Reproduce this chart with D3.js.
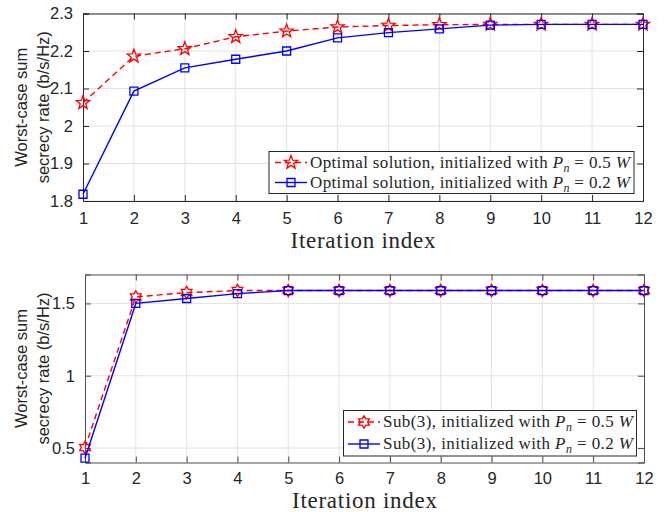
<!DOCTYPE html>
<html>
<head>
<meta charset="utf-8">
<script src="https://cdnjs.cloudflare.com/ajax/libs/d3/7.8.5/d3.min.js"></script>
<style>
  body { margin: 0; background: #fff; }
  svg { display: block; }
</style>
</head>
<body>
<script>
// data
var iterations = [1, 2, 3, 4, 5, 6, 7, 8, 9, 10, 11, 12];

// top panel: optimal solution
var optimal05 = [2.062, 2.186, 2.206, 2.238, 2.253, 2.264, 2.268, 2.270, 2.271, 2.271, 2.271, 2.271];
var optimal02 = [1.818, 2.093, 2.155, 2.178, 2.200, 2.235, 2.249, 2.259, 2.269, 2.271, 2.271, 2.271];

// bottom panel: Sub(3)
var sub05 = [0.503, 1.545, 1.575, 1.589, 1.589, 1.589, 1.589, 1.589, 1.589, 1.589, 1.589, 1.589];
var sub02 = [0.430, 1.500, 1.534, 1.568, 1.589, 1.589, 1.589, 1.589, 1.589, 1.589, 1.589, 1.589];

var topYTicks = [1.8, 1.9, 2.0, 2.1, 2.2, 2.3];
var bottomYTicks = [0.5, 1, 1.5];

var topLegend = ["Optimal solution, initialized with ", "Optimal solution, initialized with "];
var bottomLegend = ["Sub(3), initialized with ", "Sub(3), initialized with "];
var legendPower = ["0.5", "0.2"];

var axisColor = "#262626",
    gridColor = "#e3e3e3",
    sansFont = "'Liberation Sans', Arial, sans-serif",
    serifFont = "'Liberation Serif', 'Times New Roman', serif";

var svg = d3.select("body").append("svg")
    .attr("width", 666)
    .attr("height", 512);

// builds an outline star with n points
function starPath(n, R, r) {
  var pts = [];
  for (var i = 0; i < 2 * n; i++) {
    var a = -Math.PI / 2 + i * Math.PI / n;
    var rad = (i % 2 === 0) ? R : r;
    pts.push([rad * Math.cos(a), rad * Math.sin(a)]);
  }
  return "M" + pts.map(function(p) { return p[0].toFixed(2) + "," + p[1].toFixed(2); }).join("L") + "Z";
}

var pentagram = starPath(5, 7, 2.9);
var hexagram = starPath(6, 6.2, 3.6);
var square = "M-4,-4L4,-4L4,4L-4,4Z";

// draws the power label with P_n and W in italics
function legendText(sel, prefix, power, length) {
  var t = sel.append("text")
      .attr("font-family", serifFont)
      .attr("font-size", "17px")
      .attr("fill", axisColor)
      .attr("dy", "0.32em")
      .attr("textLength", length)
      .attr("lengthAdjust", "spacing");
  t.append("tspan").text(prefix);
  t.append("tspan").attr("font-style", "italic").text("P");
  t.append("tspan").attr("font-style", "italic").attr("font-size", "12px").attr("dy", "4").text("n");
  t.append("tspan").attr("dy", "-4").text(" = " + power + " ");
  t.append("tspan").attr("font-style", "italic").text("W");
  return t;
}

function panel(cfg) {
  var width = cfg.right - cfg.left,
      height = cfg.bottom - cfg.top;

  var g = svg.append("g")
      .attr("transform", "translate(" + cfg.left + "," + cfg.top + ")");

  var x = d3.scaleLinear().domain([1, 12]).range([0, width]);
  var y = d3.scaleLinear().domain(cfg.yDomain).range([height, 0]);

  // grid
  g.append("g").selectAll("line.gx")
      .data(iterations.slice(1, -1))
    .enter().append("line")
      .attr("x1", function(d) { return x(d); })
      .attr("x2", function(d) { return x(d); })
      .attr("y1", 0)
      .attr("y2", height)
      .attr("stroke", gridColor);
  g.append("g").selectAll("line.gy")
      .data(cfg.yTicks)
    .enter().append("line")
      .attr("x1", 0)
      .attr("x2", width)
      .attr("y1", function(d) { return y(d); })
      .attr("y2", function(d) { return y(d); })
      .attr("stroke", gridColor);

  // axes, ticks pointing inwards on all four sides
  var xAxis = g.append("g")
      .attr("transform", "translate(0," + height + ")")
      .call(d3.axisBottom(x).tickValues(iterations).tickFormat(d3.format("d")).tickSize(-6).tickPadding(cfg.xPad));
  var yAxis = g.append("g")
      .call(d3.axisLeft(y).tickValues(cfg.yTicks).tickFormat(cfg.yFormat).tickSize(-6).tickPadding(10));
  var topAxis = g.append("g")
      .call(d3.axisTop(x).tickValues(iterations).tickFormat("").tickSize(-6));
  var rightAxis = g.append("g")
      .attr("transform", "translate(" + width + ",0)")
      .call(d3.axisRight(y).tickValues(cfg.yTicks).tickFormat("").tickSize(-6));

  [xAxis, yAxis, topAxis, rightAxis].forEach(function(a) {
    a.selectAll("path, line").attr("stroke", cfg.boxColor);
    a.selectAll("text")
        .attr("fill", axisColor)
        .style("font-family", sansFont)
        .style("font-size", "16.5px");
  });
  xAxis.selectAll("text").attr("dy", "0.71em");

  // series
  var line = d3.line()
      .x(function(d) { return x(d.x); })
      .y(function(d) { return y(d.y); });

  cfg.series.forEach(function(s) {
    var data = iterations.map(function(it, i) { return { x: it, y: s.values[i] }; });
    g.append("path")
        .datum(data)
        .attr("fill", "none")
        .attr("stroke", s.color)
        .attr("stroke-width", 1.4)
        .attr("stroke-dasharray", s.dash)
        .attr("d", line);
    g.selectAll(null)
        .data(data)
      .enter().append("path")
        .attr("transform", function(d) { return "translate(" + x(d.x) + "," + y(d.y) + ")"; })
        .attr("d", s.marker)
        .attr("fill", "none")
        .attr("stroke", s.color)
        .attr("stroke-width", 1.3);
  });

  // axis labels
  g.append("text")
      .attr("x", width / 2)
      .attr("y", height + cfg.xLabelOffset)
      .attr("text-anchor", "middle")
      .attr("font-family", serifFont)
      .attr("font-size", "23px")
      .attr("fill", axisColor)
      .attr("textLength", 145)
      .attr("lengthAdjust", "spacing")
      .text("Iteration index");

  var yl = g.append("g")
      .attr("transform", "translate(" + (-cfg.left) + "," + (height / 2) + ") rotate(-90)");
  yl.append("text")
      .attr("y", 21.7)
      .attr("dy", "0.35em")
      .attr("text-anchor", "middle")
      .attr("font-family", sansFont)
      .attr("font-size", "16.5px")
      .attr("fill", axisColor)
      .text("Worst-case sum");
  yl.append("text")
      .attr("y", 43)
      .attr("dy", "0.35em")
      .attr("text-anchor", "middle")
      .attr("font-family", sansFont)
      .attr("font-size", "16.5px")
      .attr("fill", axisColor)
      .text("secrecy rate (b/s/Hz)");

  // legend
  var lg = cfg.legend;
  var leg = svg.append("g");
  leg.append("rect")
      .attr("x", lg.x)
      .attr("y", lg.y)
      .attr("width", lg.w)
      .attr("height", lg.h)
      .attr("fill", "#fff")
      .attr("stroke", axisColor)
      .attr("stroke-width", 1);
  cfg.series.forEach(function(s, i) {
    var ry = lg.rows[i];
    leg.append("line")
        .attr("x1", lg.lineX0)
        .attr("x2", lg.lineX1)
        .attr("y1", ry)
        .attr("y2", ry)
        .attr("stroke", s.color)
        .attr("stroke-width", 1.4)
        .attr("stroke-dasharray", s.dash);
    leg.append("path")
        .attr("transform", "translate(" + ((lg.lineX0 + lg.lineX1) / 2) + "," + ry + ")")
        .attr("d", s.marker)
        .attr("fill", "none")
        .attr("stroke", s.color)
        .attr("stroke-width", 1.3);
    legendText(leg.append("g").attr("transform", "translate(" + lg.textX + "," + ry + ")"),
               lg.labels[i], legendPower[i], lg.textLen);
  });
}

panel({
  left: 83, right: 643, top: 13.5, bottom: 201,
  yDomain: [1.8, 2.3],
  yTicks: topYTicks,
  yFormat: function(d) { return d3.format("")(+d.toFixed(1)); },
  boxColor: axisColor,
  xPad: 11,
  xLabelOffset: 47,
  series: [
    { values: optimal05, color: "#ff0000", dash: "6,4", marker: pentagram },
    { values: optimal02, color: "#0000ff", dash: null, marker: square }
  ],
  legend: {
    x: 269, y: 151.5, w: 365, h: 42,
    rows: [162.5, 182.5],
    lineX0: 275, lineX1: 307, textX: 310, textLen: 320,
    labels: topLegend
  }
});

panel({
  left: 85, right: 644, top: 274.5, bottom: 462.5,
  yDomain: [0.4, 1.7],
  yTicks: bottomYTicks,
  yFormat: function(d) { return d3.format("")(d); },
  boxColor: "#4d4d4d",
  xPad: 10,
  xLabelOffset: 45.5,
  series: [
    { values: sub05, color: "#ff0000", dash: "6,4", marker: hexagram },
    { values: sub02, color: "#0000ff", dash: null, marker: square }
  ],
  legend: {
    x: 343.5, y: 410.5, w: 293, h: 45.5,
    rows: [422, 444],
    lineX0: 348, lineX1: 380, textX: 383, textLen: 250,
    labels: bottomLegend
  }
});
</script>
</body>
</html>
